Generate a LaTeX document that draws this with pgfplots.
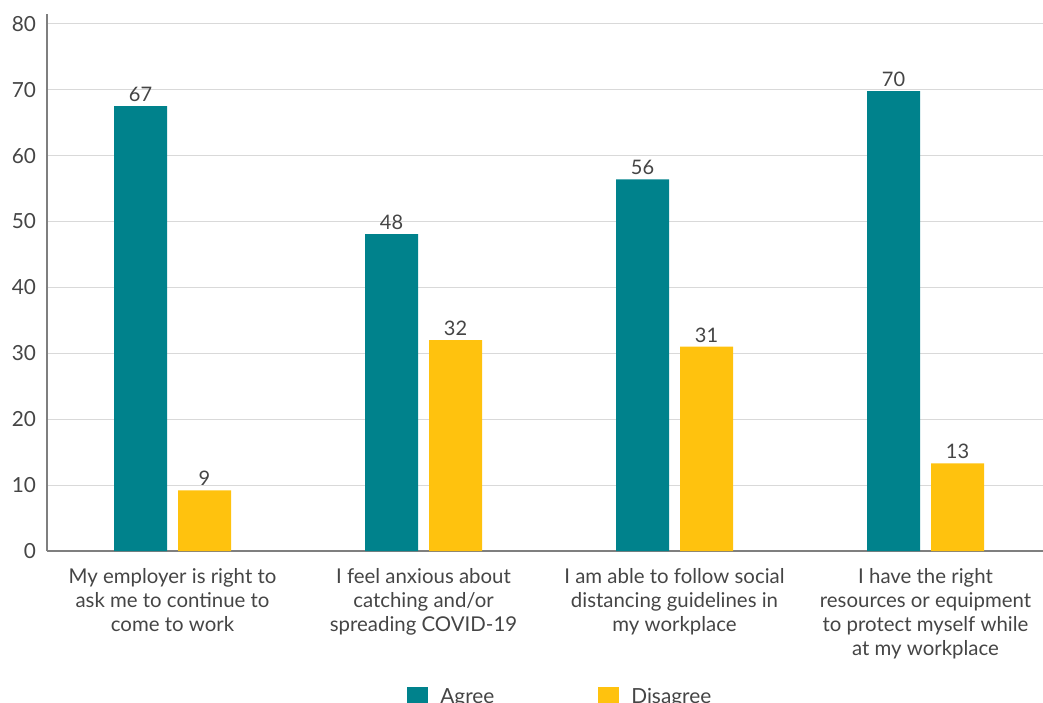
\documentclass[border=0pt]{standalone}
\usepackage{pgfplots}
\pgfplotsset{compat=1.18}
\usepackage{fontspec}
\setmainfont{Lato}
\definecolor{teal1}{HTML}{00828C}
\definecolor{gold1}{HTML}{FFC20E}
\definecolor{txt}{HTML}{454545}
\definecolor{axgray}{HTML}{7F7F7F}
\definecolor{gridgray}{HTML}{D9D9D9}
\begin{document}
\begin{tikzpicture}
\begin{axis}[
  x=125.5pt, y=3.295pt,
  xmin=-0.5, xmax=3.468, ymin=0, ymax=81.5,
  axis lines=left,
  axis line style={-, axgray, line width=1pt},
  ytick={0,10,...,80},
  xtick={0,1,2,3},
  xticklabels={{My employer is right to\\ask me to continue to\\come to work},
               {I feel anxious about\\catching and/or\\spreading COVID-19},
               {I am able to follow social\\distancing guidelines in\\my workplace},
               {I have the right\\resources or equipment\\to protect myself while\\at my workplace}},
  xticklabel style={align=center, font=\fontsize{10.2}{12}\selectfont, text=txt, yshift=-5pt},
  yticklabel style={font=\fontsize{10.4}{12}\selectfont, text=txt, xshift=-2pt},
  /pgf/number format/assume math mode=true,
  major tick length=0pt,
  ymajorgrids, grid style={gridgray, line width=0.6pt},
  ybar, bar width=26.5pt,
  point meta=explicit symbolic,
  nodes near coords,
  nodes near coords style={font=\fontsize{10}{12}\selectfont, text=txt, inner sep=2pt},
  clip=false,
  legend style={draw=none, at={(0.3614,-0.247)}, anchor=north west, inner sep=0pt,
    font=\fontsize{10.4}{12}\selectfont, text=txt,
    /tikz/every odd column/.append style={column sep=4pt},
    /tikz/every even column/.append style={column sep=50pt}},
  legend columns=2,
  legend image code/.code={\fill[#1] (0pt,-5.25pt) rectangle (10.5pt,5.25pt);},
  legend cell align=left,
]
\addplot[fill=teal1, draw=none, bar shift=-16pt] coordinates {(0,67.5)[67] (1,48.1)[48] (2,56.4)[56] (3,69.8)[70]};
\addplot[fill=gold1, draw=none, bar shift=16pt] coordinates {(0,9.2)[9] (1,32)[32] (2,31)[31] (3,13.3)[13]};
\legend{Agree,Disagree}
\coordinate (O) at (axis cs:-0.5,0);
\end{axis}
\pgfresetboundingbox
\path ([shift={(-23.5pt,-75.5pt)}]O) rectangle ([shift={(498pt,275.5pt)}]O);
\end{tikzpicture}
\end{document}
